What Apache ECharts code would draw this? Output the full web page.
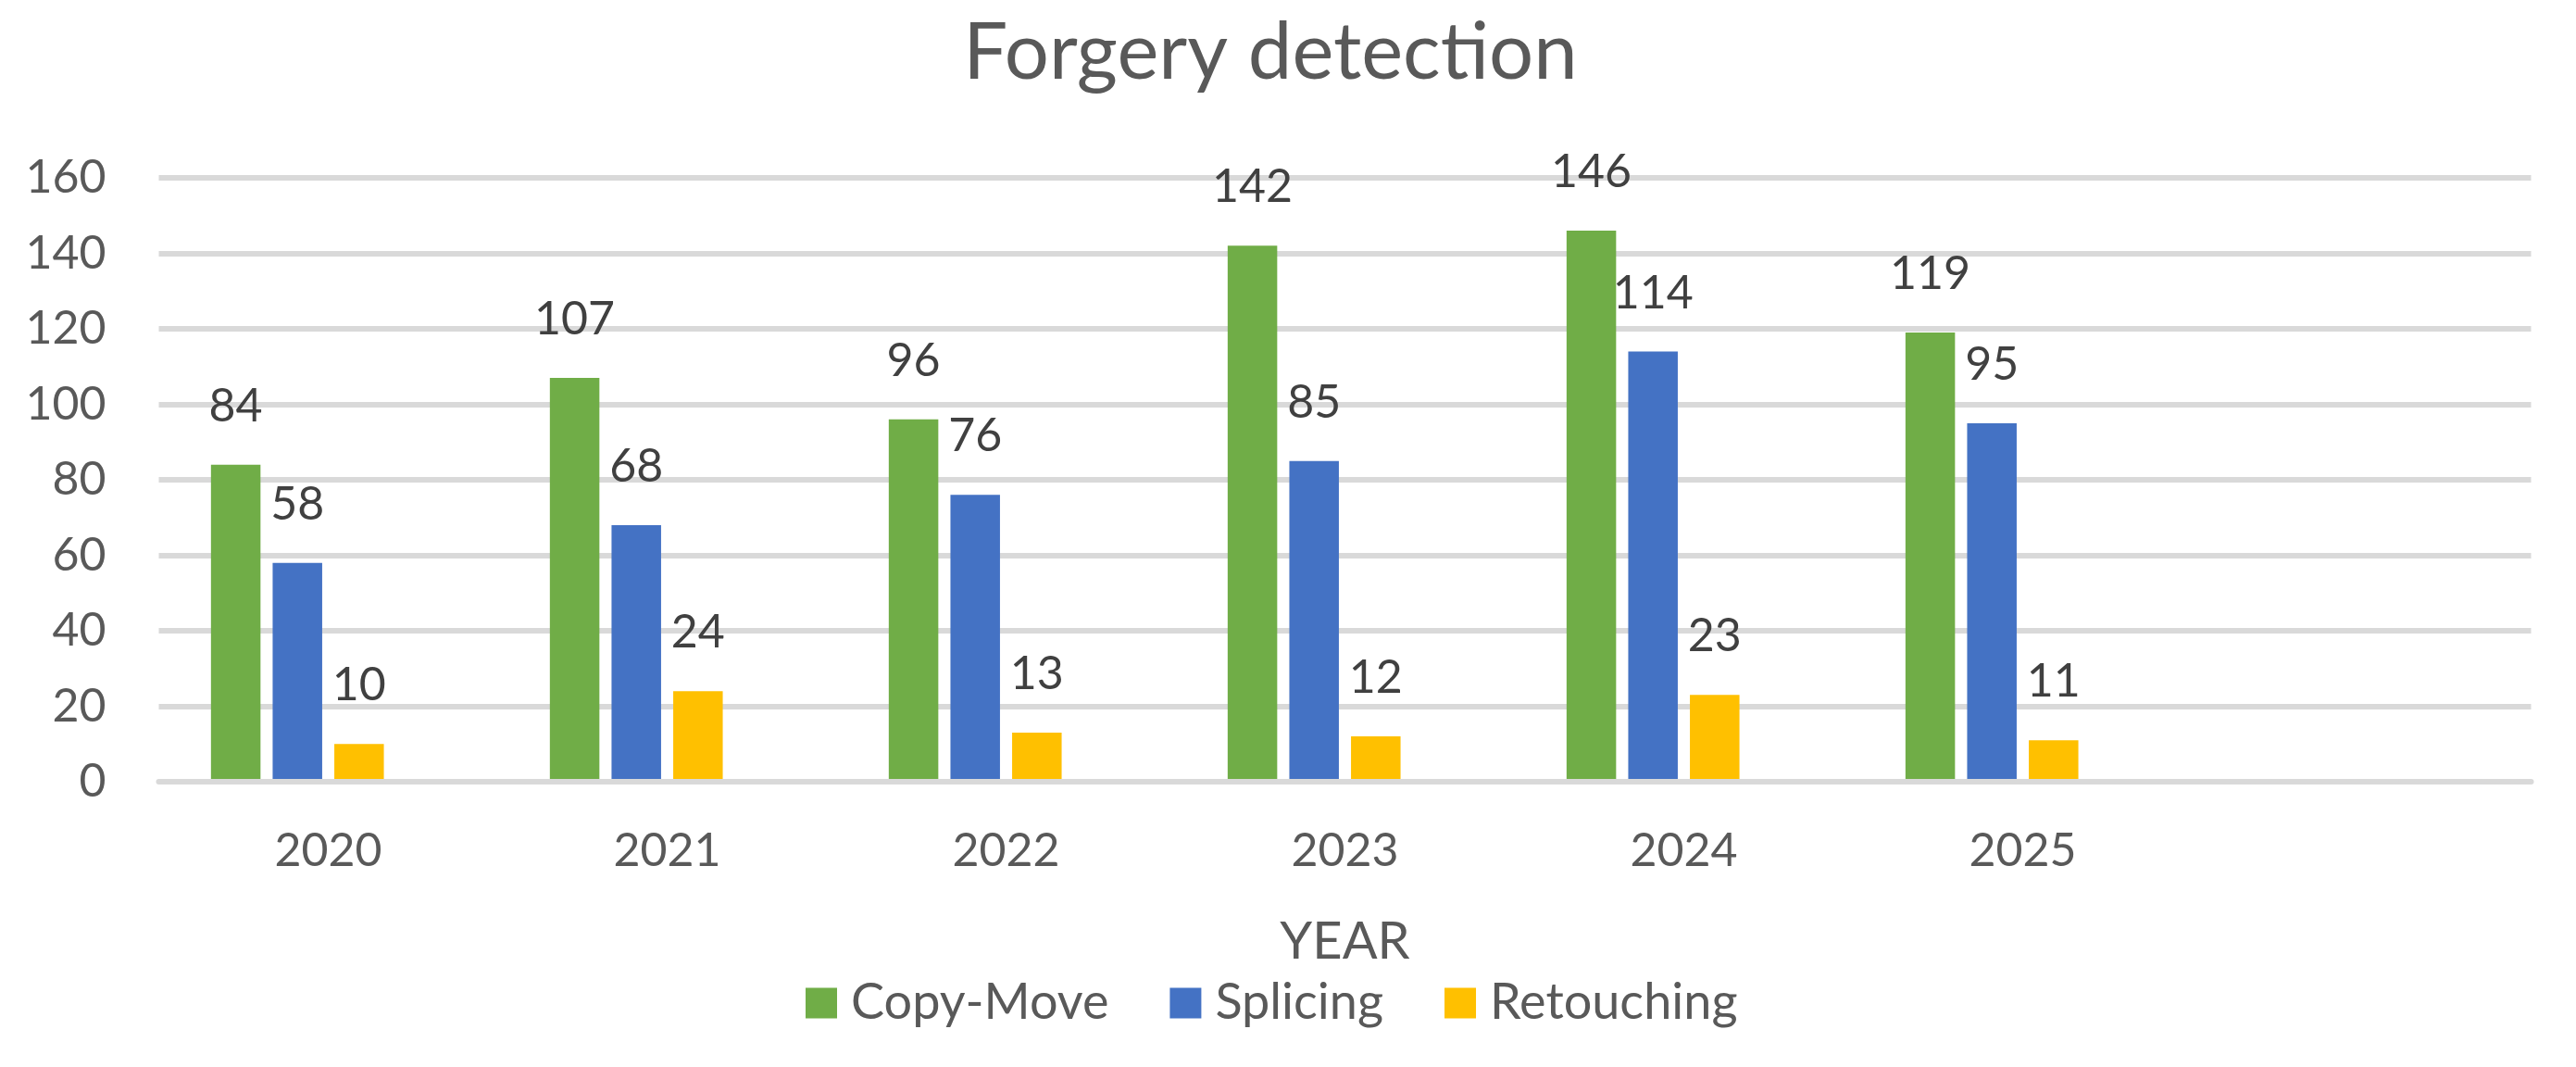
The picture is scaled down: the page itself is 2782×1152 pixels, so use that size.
<!DOCTYPE html>
<html>
<head>
<meta charset="utf-8">
<script src="https://cdn.jsdelivr.net/npm/echarts@6/dist/echarts.min.js"></script>
<style>
html,body{margin:0;padding:0;background:#fff;}
#chart{width:2782px;height:1152px;}
</style>
</head>
<body>
<div id="chart"></div>
<script>
const categories = ['2020', '2021', '2022', '2023', '2024', '2025', ''];
const copyMove = [84, 107, 96, 142, 146, 119, null];
const splicing = [58, 68, 76, 85, 114, 95, null];
const retouching = [10, 24, 13, 12, 23, 11, null];
const emptySeries = [null, null, null, null, null, null, null];
const yTicks = { min: 0, max: 160, interval: 20 };

const FONT = 'Lato';
const labelStyle = {
  show: true, position: 'top', distance: 38,
  color: '#404040', fontFamily: FONT, fontSize: 50
};
function bar(name, data, color, withLabel) {
  return {
    name: name, type: 'bar', data: data, barWidth: 53.5, barGap: '24.5%',
    itemStyle: { color: color },
    label: withLabel ? labelStyle : { show: false },
    emphasis: { disabled: true }
  };
}
const chart = echarts.init(document.getElementById('chart'));
chart.setOption({
  animation: false,
  backgroundColor: '#ffffff',
  title: {
    text: 'Forgery detection', left: 1367, textAlign: 'center', top: 10,
    textStyle: { color: '#595959', fontFamily: FONT, fontSize: 85, fontWeight: 'normal' }
  },
  legend: {
    data: ['Copy-Move', 'Splicing', 'Retouching'],
    left: 870, top: 1056, padding: 0,
    icon: 'rect', itemWidth: 34, itemHeight: 33, itemGap: 66,
    textStyle: { color: '#595959', fontFamily: FONT, fontSize: 54, padding: [0, 0, 0, 10] }
  },
  grid: { left: 171.5, right: 48.5, top: 192, bottom: 308, containLabel: false },
  xAxis: {
    type: 'category', data: categories, z: 3,
    name: 'YEAR', nameLocation: 'middle', nameGap: 145,
    nameTextStyle: { color: '#595959', fontFamily: FONT, fontSize: 56 },
    axisLine: { show: true, lineStyle: { color: '#d9d9d9', width: 6 } },
    axisTick: { show: false },
    axisLabel: { color: '#595959', fontFamily: FONT, fontSize: 50, margin: 50 }
  },
  yAxis: {
    type: 'value', min: yTicks.min, max: yTicks.max, interval: yTicks.interval,
    axisLine: { show: false }, axisTick: { show: false },
    splitLine: { lineStyle: { color: '#d9d9d9', width: 6 } },
    axisLabel: { color: '#595959', fontFamily: FONT, fontSize: 50, margin: 57 }
  },
  series: [
    bar('Copy-Move', copyMove, '#70ad47', true),
    bar('Splicing', splicing, '#4472c4', true),
    bar('Retouching', retouching, '#ffc000', true),
    bar('', emptySeries, 'transparent', false)
  ]
});
</script>
</body>
</html>
